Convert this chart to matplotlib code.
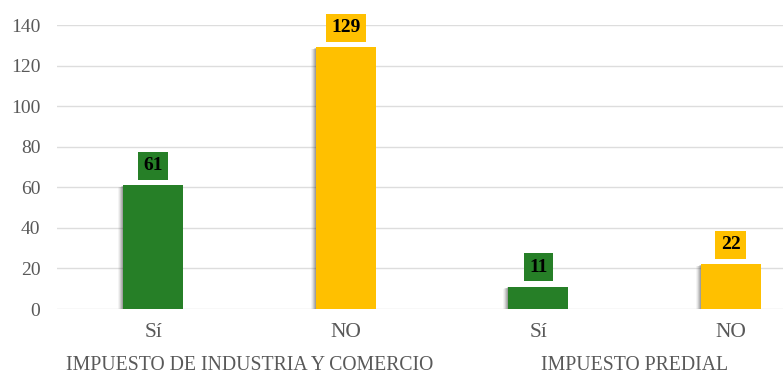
import matplotlib
matplotlib.use("Agg")
import matplotlib.pyplot as plt
import matplotlib.patheffects as pe
from matplotlib.transforms import blended_transform_factory

categories = ["Sí", "NO", "Sí", "NO"]
values = [61, 129, 11, 22]
groups = ["IMPUESTO DE INDUSTRIA Y COMERCIO", "IMPUESTO PREDIAL"]
yticks = [0, 20, 40, 60, 80, 100, 120, 140]

GREEN = "#267F27"
YELLOW = "#FFC000"
colors = [GREEN, YELLOW, GREEN, YELLOW]
GRAY = "#595959"

plt.rcParams['font.family'] = ['Liberation Serif', 'DejaVu Serif']

W, H = 783, 388
fig = plt.figure(figsize=(W / 100, H / 100), dpi=100)
left, right, top, bottom = 57, 783, 25, 309
ax = fig.add_axes([left / W, (H - bottom) / H, (right - left) / W, (bottom - top) / H])

x = list(range(len(values)))
bars = ax.bar(x, values, width=0.31, color=colors, zorder=3)
shadow = []
for i, a in enumerate([0.18, 0.15, 0.12, 0.08, 0.05]):
    d = (i + 1) * 0.75
    shadow.append(pe.SimplePatchShadow(offset=(-d, -d * 0.4), shadow_rgbFace="#333333", alpha=a))
for b in bars:
    b.set_path_effects(shadow + [pe.Normal()])

for xi, v, c in zip(x, values, colors):
    ax.annotate(str(v), (xi, v), xytext=(0, 8), textcoords="offset points",
                ha="center", va="bottom", fontsize=14, fontweight="bold", color="black",
                bbox=dict(boxstyle="square,pad=0.28", fc=c, ec="none"), zorder=4,
                annotation_clip=False)

ax.set_ylim(0, 140)
ax.set_xlim(-0.5, -0.5 + (right - left) / 192.5)
ax.set_yticks(yticks)
ax.set_xticks(x)
ax.set_xticklabels(categories)
ax.tick_params(axis="y", length=0, labelsize=14, labelcolor=GRAY, pad=12)
ax.tick_params(axis="x", length=0, labelsize=15.5, labelcolor=GRAY, pad=10)
ax.grid(axis="y", color="#DDDDDD", linewidth=1, zorder=0)
for s in ax.spines.values():
    s.set_visible(False)

trans = blended_transform_factory(ax.transData, fig.transFigure)
ax.text(0.5, (H - 366) / H, groups[0], transform=trans, ha="center", va="center",
        fontsize=14.2, color=GRAY)
ax.text(2.5, (H - 366) / H, groups[1], transform=trans, ha="center", va="center",
        fontsize=14.2, color=GRAY)

fig.savefig("out.png", dpi=100, facecolor="white")
